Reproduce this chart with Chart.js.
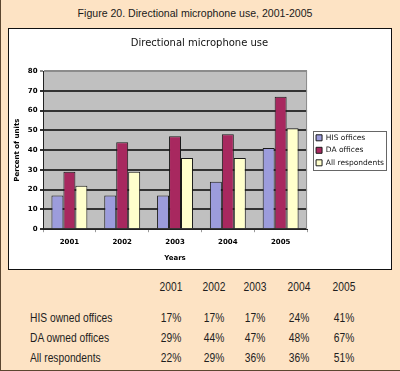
<!DOCTYPE html>
<html>
<head>
<meta charset="utf-8">
<script src="https://cdn.jsdelivr.net/npm/chart.js@4/dist/chart.umd.min.js"></script>
<style>
  body { margin: 0; }
  #page { position: relative; width: 400px; height: 371px; background: #fde3c4; overflow: hidden;
          box-sizing: border-box; border-left: 1px solid #5b4630; border-bottom: 1px solid #5b4630; }
  #fig { position: absolute; left: 0; top: 7px; width: 388px; text-align: center;
         font: 11px "Liberation Sans", Arial, sans-serif; color: #1a1a1a; transform: scaleX(0.96); }
  #box { position: absolute; left: 7px; top: 28px; width: 382px; height: 240px;
         border: 1px solid #111; background: #fff; }
  #box canvas { display: block; }
  .cell { position: absolute; font: 12.5px "Liberation Sans", Arial, sans-serif; color: #1e1e1e;
          line-height: 14px; white-space: nowrap; }
  .lab { transform: scaleX(0.82); transform-origin: left center; }
  .val { width: 60px; text-align: center; transform: scaleX(0.82); transform-origin: center center; }
</style>
</head>
<body>
<div id="page">
  <div id="fig">Figure 20. Directional microphone use, 2001-2005</div>
  <div id="box"><canvas id="c" width="382" height="240"></canvas></div>
  <div id="table"></div>
</div>
<script>
const years = ['2001', '2002', '2003', '2004', '2005'];
const hisOffices = [17, 17, 17, 24, 41];
const daOffices = [29, 44, 47, 48, 67];
const allRespondents = [22, 29, 36, 36, 51];
const seriesNames = ['HIS offices', 'DA offices', 'All respondents'];
const tableRowNames = ['HIS owned offices', 'DA owned offices', 'All respondents'];
const yTicks = [0, 10, 20, 30, 40, 50, 60, 70, 80];

const FONT = 'DejaVu Sans';

// grey plot background + light frame on the right
const plotBg = {
  id: 'plotBg',
  beforeDraw(chart) {
    const { ctx, chartArea: a } = chart;
    ctx.save();
    ctx.fillStyle = '#c0c0c0';
    ctx.fillRect(a.left, a.top, a.right - a.left, a.bottom - a.top);
    ctx.restore();
  },
  afterDatasetsDraw(chart) {
    const { ctx, chartArea: a } = chart;
    ctx.save();
    ctx.strokeStyle = '#8c8c8c';
    ctx.lineWidth = 1;
    ctx.beginPath();
    ctx.moveTo(a.right - 0.5, a.top);
    ctx.lineTo(a.right - 0.5, a.bottom);
    ctx.stroke();
    ctx.restore();
  }
};

// nudge the legend and put a frame round it
const legendFrame = {
  id: 'legendFrame',
  afterLayout(chart) {
    const lg = chart.legend;
    lg.left += 4; lg.right += 4;
    lg.top += 4.7; lg.bottom += 4.7;
  },
  afterDraw(chart) {
    const hb = chart.legend.legendHitBoxes;
    if (!hb || !hb.length) return;
    const ctx = chart.ctx;
    const l = Math.min(...hb.map(h => h.left)) - 3;
    const t = Math.min(...hb.map(h => h.top)) - 3;
    const r = Math.max(...hb.map(h => h.left + h.width)) + 2;
    const b = Math.max(...hb.map(h => h.top + h.height)) + 3;
    ctx.save();
    ctx.strokeStyle = '#666';
    ctx.lineWidth = 1;
    ctx.strokeRect(Math.round(l) + 0.5, Math.round(t) + 0.5, Math.round(r - l), Math.round(b - t));
    ctx.restore();
  }
};

new Chart(document.getElementById('c'), {
  type: 'bar',
  data: {
    labels: years,
    datasets: [
      { label: seriesNames[0], data: hisOffices, backgroundColor: '#9c9cdc', borderColor: '#1a1a1a', borderWidth: 1 },
      { label: seriesNames[1], data: daOffices, backgroundColor: '#a8285f', borderColor: '#1a1a1a', borderWidth: 1 },
      { label: seriesNames[2], data: allRespondents, backgroundColor: '#ffffcc', borderColor: '#1a1a1a', borderWidth: 1 }
    ]
  },
  options: {
    responsive: false,
    animation: false,
    layout: { padding: { top: 0, left: 0, right: 1, bottom: 6.8 } },
    datasets: { bar: { categoryPercentage: 0.68, barPercentage: 1 } },
    plugins: {
      title: {
        display: true,
        text: 'Directional microphone use',
        color: '#111',
        font: { family: FONT, size: 10, weight: 'normal' },
        padding: { top: 8, bottom: 22 }
      },
      legend: {
        position: 'right',
        labels: {
          boxWidth: 6, boxHeight: 6, padding: 5, color: '#111',
          font: { family: FONT, size: 7.5 }
        }
      },
      tooltip: { enabled: false }
    },
    scales: {
      x: {
        grid: { display: true, drawOnChartArea: false, offset: true, tickLength: 3, color: '#999' },
        border: { color: '#222', width: 1 },
        ticks: { padding: 5.8, color: '#000', font: { family: FONT, size: 7, weight: 'bold' } },
        title: {
          display: true, text: 'Years', color: '#000',
          font: { family: FONT, size: 7, weight: 'bold' },
          padding: { top: 1.6, bottom: 0 }
        }
      },
      y: {
        min: 0, max: 80,
        afterBuildTicks: s => { s.ticks = yTicks.map(v => ({ value: v })); },
        ticks: { padding: 2.5, color: '#000', font: { family: FONT, size: 7, weight: 'bold' } },
        grid: {
          tickLength: 3, lineWidth: 2,
          color: c => (c.tick && c.tick.value === 80 ? '#8c8c8c' : '#333')
        },
        border: { color: '#222', width: 1 },
        title: {
          display: true, text: 'Percent of units', color: '#000',
          font: { family: FONT, size: 7, weight: 'bold' },
          padding: { top: 4, bottom: 6 }
        },
        afterFit: s => { s.width = 34; }
      }
    }
  },
  plugins: [plotBg, legendFrame]
});

// data table under the chart
const table = document.getElementById('table');
const colX = [169.5, 212.5, 254, 298, 343];
const rowY = [280, 311, 331, 351];
function cell(text, cls, x, y) {
  const d = document.createElement('div');
  d.className = 'cell ' + cls;
  d.textContent = text;
  d.style.left = (cls === 'val' ? x - 30 : x) + 'px';
  d.style.top = y + 'px';
  table.appendChild(d);
}
years.forEach((y, i) => cell(y, 'val', colX[i], rowY[0]));
[hisOffices, daOffices, allRespondents].forEach((row, r) => {
  cell(tableRowNames[r], 'lab', 29, rowY[r + 1]);
  row.forEach((v, i) => cell(v + '%', 'val', colX[i], rowY[r + 1]));
});
</script>
</body>
</html>
